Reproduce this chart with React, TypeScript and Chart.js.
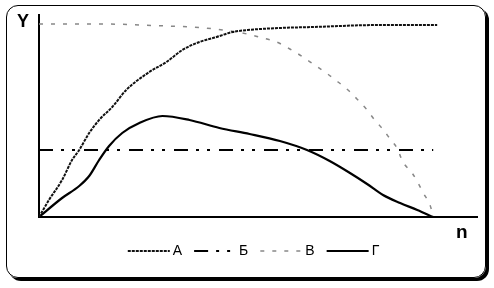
import React, { useEffect, useRef } from "react";
import { Chart, registerables } from "chart.js";

Chart.register(...registerables);

const seriesNames = ["А", "Б", "В", "Г"];

const aX = [0, 2.5, 5.8, 8.3, 10.1, 12.6, 15.1, 18.4, 21.9, 27.7, 32, 36, 40.3, 44.6, 48.6, 52.4, 60.5, 68.8, 85.6, 100];
const aY = [0, 17, 37, 57, 67, 84, 97, 110, 127, 145, 155, 167, 175, 180, 185, 187, 189, 190, 192, 192];

const bX = [0, 99];
const bY = [67, 67];

const vX = [0, 15.1, 32, 40.3, 46.1, 49.6, 53.4, 56.2, 59.7, 63, 65.5, 68.5, 72.5, 75.1, 77.6, 80.1, 82.4, 84.1, 86.1, 88.2, 89.9, 91.4, 93.7, 95.2, 96.5, 98.2, 99];
const vY = [193, 193, 191, 189.5, 187, 185, 182, 179, 175, 168, 162, 154, 143, 135, 127, 117, 107, 98, 89, 78, 69, 55, 44, 34, 24, 12, 1];

const gX = [0, 5.8, 10.1, 12.6, 15.1, 17.6, 20.9, 25.2, 31, 37.8, 45.3, 52.9, 60.5, 67.3, 73, 78.1, 82.4, 86.4, 90.7, 95, 99];
const gY = [0, 19, 31, 41, 57, 71, 84, 94, 101, 97, 89, 83, 76, 67, 56, 44, 33, 22, 14, 7, 0];

const toPts = (xs: number[], ys: number[]) => xs.map((x, i) => ({ x, y: ys[i] }));

const legendPlugin = {
  id: "customLegend",
  afterDraw(chart: any) {
    const ctx = chart.ctx;
    const ds = chart.data.datasets;
    const sampleW = 42;
    const textGap = 3;
    const itemGap = 12;
    const cy = 251;
    ctx.save();
    ctx.font = "14px 'Liberation Sans', Arial, sans-serif";
    ctx.textBaseline = "middle";
    let total = 0;
    ds.forEach((d: any, i: number) => {
      total += sampleW + textGap + ctx.measureText(d.label).width + (i < ds.length - 1 ? itemGap : 0);
    });
    let x = 253.5 - total / 2;
    ds.forEach((d: any) => {
      ctx.save();
      ctx.strokeStyle = d.borderColor;
      ctx.lineWidth = d.borderWidth;
      ctx.setLineDash(d.borderDash || []);
      ctx.beginPath();
      ctx.moveTo(x, cy);
      ctx.lineTo(x + sampleW, cy);
      ctx.stroke();
      ctx.restore();
      x += sampleW + textGap;
      ctx.fillStyle = "#000";
      ctx.fillText(d.label, x, cy);
      x += ctx.measureText(d.label).width + itemGap;
    });
    ctx.restore();
  },
};

export default function App() {
  const ref = useRef<HTMLCanvasElement | null>(null);
  useEffect(() => {
    if (!ref.current) return;
    const chart = new Chart(ref.current, {
      type: "line",
      data: {
        datasets: [
          {
            label: seriesNames[0],
            data: toPts(aX, aY),
            borderColor: "#111",
            borderWidth: 2,
            borderDash: [3, 1],
            pointRadius: 0,
            cubicInterpolationMode: "monotone",
          },
          {
            label: seriesNames[1],
            data: toPts(bX, bY),
            borderColor: "#000",
            borderWidth: 2,
            borderDash: [14, 8, 3, 8, 3, 9],
            pointRadius: 0,
          },
          {
            label: seriesNames[2],
            data: toPts(vX, vY),
            borderColor: "#888",
            borderWidth: 1.5,
            borderDash: [4, 8],
            pointRadius: 0,
            cubicInterpolationMode: "monotone",
          },
          {
            label: seriesNames[3],
            data: toPts(gX, gY),
            borderColor: "#000",
            borderWidth: 2.2,
            pointRadius: 0,
            cubicInterpolationMode: "monotone",
          },
        ] as any,
      },
      options: {
        animation: false,
        responsive: false,
        layout: { padding: { left: 39, top: 15, right: 17, bottom: 71 } },
        plugins: { legend: { display: false }, tooltip: { enabled: false } },
        scales: {
          x: {
            type: "linear",
            min: 0,
            max: 110,
            grid: { display: false, drawTicks: false },
            ticks: { display: false },
            border: { display: true, color: "#000", width: 2 },
          },
          y: {
            min: 0,
            max: 202,
            grid: { display: false, drawTicks: false },
            ticks: { display: false },
            border: { display: true, color: "#000", width: 2 },
          },
        },
      },
      plugins: [legendPlugin],
    });
    return () => chart.destroy();
  }, []);

  return (
    <div style={{ position: "fixed", left: 0, top: 0, width: 494, height: 288, background: "#fff" }}>
      <div
        style={{
          position: "absolute",
          left: 6,
          top: 5,
          width: 480,
          height: 273,
          boxSizing: "border-box",
          border: "1px solid #000",
          borderRadius: 12,
          boxShadow: "3px 3px 0 #000",
        }}
      />
      <canvas ref={ref} width={494} height={288} style={{ position: "absolute", left: 0, top: 0 }} />
      <span
        style={{
          position: "absolute",
          left: 17,
          top: 11,
          font: "bold 18px 'Liberation Sans', Arial, sans-serif",
          lineHeight: "20px",
        }}
      >
        Y
      </span>
      <span
        style={{
          position: "absolute",
          left: 456,
          top: 222,
          font: "bold 19px 'Liberation Sans', Arial, sans-serif",
          lineHeight: "20px",
        }}
      >
        n
      </span>
    </div>
  );
}
